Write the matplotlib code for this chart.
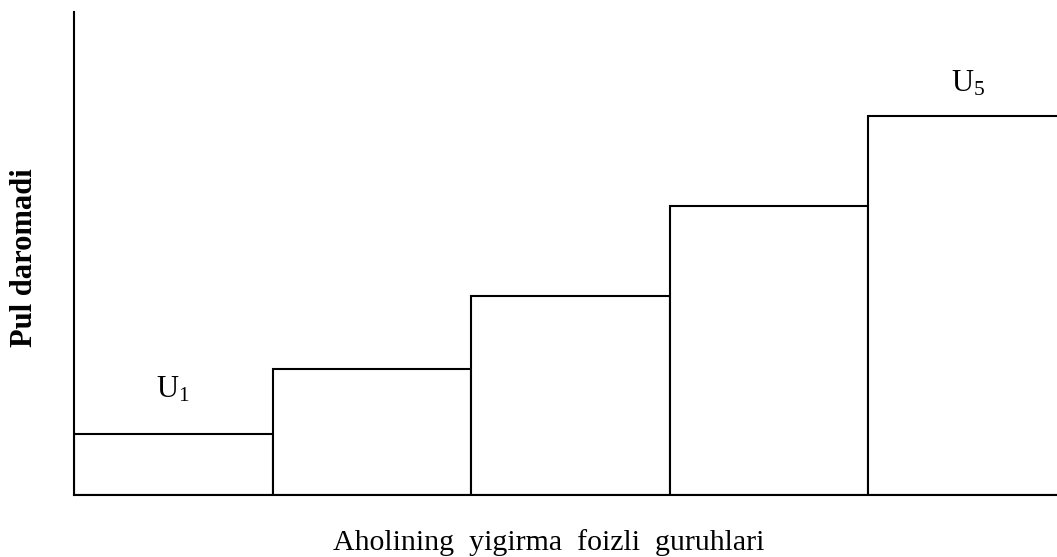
import matplotlib
matplotlib.use("Agg")
import matplotlib.pyplot as plt

plt.rcParams['mathtext.fontset'] = 'custom'
plt.rcParams['mathtext.rm'] = 'Liberation Serif'
plt.rcParams['mathtext.it'] = 'Liberation Serif'
plt.rcParams['font.family'] = ['Liberation Serif', 'DejaVu Serif']

# Data (relative income of quintile groups)
groups = [0, 1, 2, 3, 4]
values = [6.1, 12.6, 19.9, 28.9, 37.9]
bar_labels = {0: r'U$_1$', 4: r'U$_5$'}
label_offsets_pt = {0: 26.5, 4: 17.3}
xlabel = "Aholining  yigirma  foizli  guruhlari"
ylabel = "Pul daromadi"

fig = plt.figure(figsize=(10.57, 5.57), dpi=100)
ax = fig.add_axes([74/1057, (557-495)/557, (1057-74)/1057, (495-12)/557])

ax.bar(groups, values, width=1.0, align='edge', color='white',
       edgecolor='black', linewidth=1.5)

for i, lab in bar_labels.items():
    ax.annotate(lab, xy=(groups[i] + 0.5, values[i]),
                xytext=(0, label_offsets_pt[i]), textcoords='offset points',
                ha='center', va='baseline', fontsize=22)

ax.set_xlim(0, 4.95)
ax.set_ylim(0, 48.3)
ax.spines['top'].set_visible(False)
ax.spines['right'].set_visible(False)
ax.spines['left'].set_linewidth(1.5)
ax.spines['bottom'].set_linewidth(1.5)
ax.set_xticks([])
ax.set_yticks([])

fig.text(549/1057, 1 - 550/557, xlabel, ha='center', va='baseline', fontsize=21.5)
fig.text(25/1057, 1 - 258/557, ylabel, ha='center', va='center', rotation=90,
         fontsize=22, fontweight='bold')

fig.savefig("out.png", dpi=100)
